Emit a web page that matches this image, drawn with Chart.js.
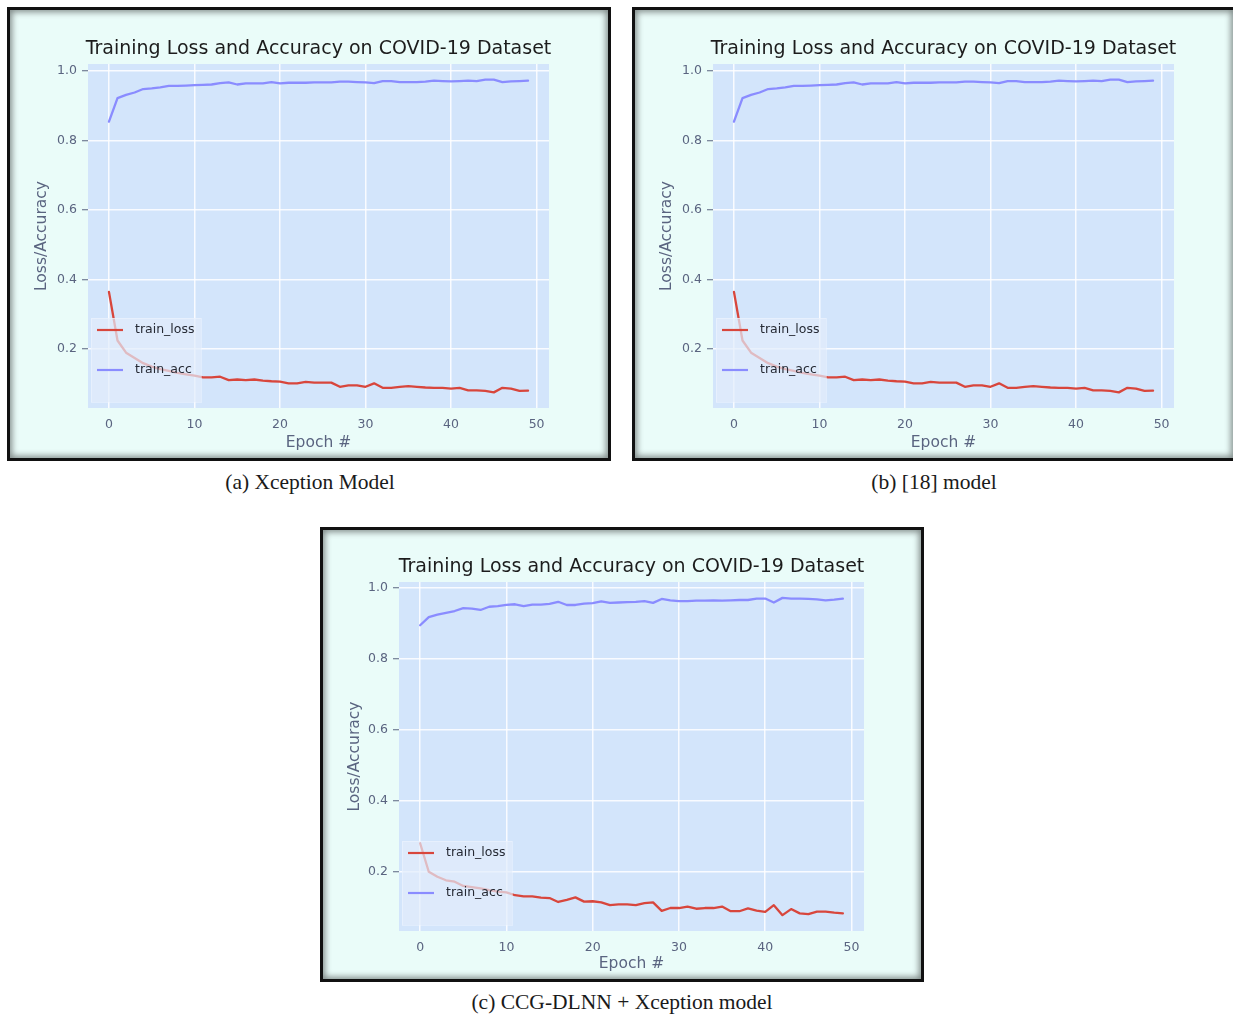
<!DOCTYPE html>
<html>
<head>
<meta charset="utf-8">
<title>Training Loss and Accuracy on COVID-19 Dataset</title>
<script src="https://cdn.jsdelivr.net/npm/chart.js@4.4.1/dist/chart.umd.min.js"></script>
<style>
    html, body { margin: 0; padding: 0; background: #fff; overflow: hidden; width: 1233px; height: 1015px; }
    .frame {
        position: absolute;
        box-sizing: border-box;
        width: 604px;
        border: 3px solid #111;
        background: #eafcf9;
        box-shadow: inset 0 0 6px 2px rgba(0, 0, 0, 0.45);
    }
    .frame canvas { position: absolute; left: 0; top: 0; }
    .caption {
        position: absolute;
        font-family: 'Liberation Serif', 'Times New Roman', serif;
        font-size: 21.5px;
        line-height: 24px;
        color: #1a1a1a;
        transform: translateX(-50%);
        white-space: nowrap;
    }
</style>
</head>
<body>
<div class="frame" style="left:7px; top:7px; height:454px;"><canvas id="chartA" width="598" height="448"></canvas></div>
<div class="frame" style="left:632px; top:7px; height:454px;"><canvas id="chartB" width="598" height="448"></canvas></div>
<div class="frame" style="left:320px; top:527px; height:455px;"><canvas id="chartC" width="598" height="449"></canvas></div>

<div class="caption" style="left:310px; top:470px;">(a) Xception Model</div>
<div class="caption" style="left:934px; top:470px;">(b) [18] model</div>
<div class="caption" style="left:622px; top:990px;">(c) CCG-DLNN + Xception model</div>

<script>
'use strict';

// Epochs (x axis) and tick labels
const epochs = Array.from({ length: 50 }, (_, i) => i);
const xTicks = [0, 10, 20, 30, 40, 50];
const yTicks = [0.2, 0.4, 0.6, 0.8, 1.0];

// Xception run (panels a and b show the same curves)
const lossXception = [
    0.365, 0.225, 0.190, 0.175, 0.160, 0.150, 0.143, 0.138, 0.132, 0.128,
    0.124, 0.119, 0.119, 0.121, 0.111, 0.113, 0.111, 0.113, 0.110, 0.108,
    0.107, 0.102, 0.102, 0.106, 0.104, 0.104, 0.104, 0.092, 0.096, 0.096,
    0.092, 0.102, 0.089, 0.089, 0.092, 0.094, 0.092, 0.090, 0.089, 0.089,
    0.087, 0.089, 0.082, 0.082, 0.080, 0.076, 0.089, 0.087, 0.080, 0.081,
];
const accXception = [
    0.854, 0.922, 0.931, 0.938, 0.948, 0.950, 0.953, 0.957, 0.957, 0.958,
    0.959, 0.960, 0.961, 0.965, 0.967, 0.961, 0.964, 0.964, 0.964, 0.968,
    0.964, 0.966, 0.966, 0.966, 0.967, 0.967, 0.967, 0.969, 0.969, 0.968,
    0.967, 0.965, 0.971, 0.971, 0.968, 0.968, 0.968, 0.969, 0.972, 0.971,
    0.970, 0.971, 0.972, 0.971, 0.975, 0.975, 0.968, 0.970, 0.971, 0.972,
];

// CCG-DLNN + Xception run (panel c)
const lossCcg = [
    0.281, 0.201, 0.187, 0.177, 0.173, 0.161, 0.158, 0.154, 0.149, 0.145,
    0.143, 0.135, 0.132, 0.132, 0.128, 0.127, 0.116, 0.122, 0.129, 0.117,
    0.118, 0.115, 0.107, 0.109, 0.109, 0.107, 0.113, 0.115, 0.091, 0.099,
    0.099, 0.103, 0.097, 0.099, 0.099, 0.103, 0.090, 0.090, 0.098, 0.092,
    0.088, 0.107, 0.079, 0.096, 0.084, 0.082, 0.089, 0.089, 0.086, 0.084,
];
const accCcg = [
    0.894, 0.917, 0.924, 0.929, 0.934, 0.942, 0.941, 0.937, 0.946, 0.948,
    0.951, 0.953, 0.948, 0.952, 0.952, 0.954, 0.960, 0.951, 0.951, 0.955,
    0.956, 0.961, 0.957, 0.958, 0.959, 0.960, 0.962, 0.957, 0.968, 0.964,
    0.962, 0.962, 0.963, 0.963, 0.964, 0.963, 0.964, 0.965, 0.965, 0.969,
    0.969, 0.958, 0.971, 0.969, 0.969, 0.968, 0.967, 0.964, 0.966, 0.969,
];

const FONT = "'DejaVu Sans', 'Noto Sans', sans-serif";
const TITLE = 'Training Loss and Accuracy on COVID-19 Dataset';
const PLOT_BG = '#d3e5fb';
const GRID = 'rgba(255, 255, 255, 0.85)';
const TICK_COLOR = '#5a6480';
const LOSS_COLOR = '#d8463c';
const ACC_COLOR = '#8a8cff';

// marge de 5 % comme matplotlib
function limits(values) {
    const lo = Math.min(...values);
    const hi = Math.max(...values);
    const m = (hi - lo) * 0.05;
    return [lo - m, hi + m];
}

/* Fond de la zone de tracé */
const plotBackground = {
    id: 'plotBackground',
    beforeDraw(chart, args, opts) {
        const { ctx, chartArea: a } = chart;
        ctx.save();
        ctx.fillStyle = opts.color;
        ctx.fillRect(a.left, a.top, a.width, a.height);
        ctx.restore();
    },
};

/* Titre centré sur la zone de tracé */
const panelTitle = {
    id: 'panelTitle',
    afterDraw(chart, args, opts) {
        const { ctx, chartArea: a } = chart;
        ctx.save();
        ctx.font = opts.size + 'px ' + FONT;
        ctx.fillStyle = opts.color;
        ctx.textAlign = 'center';
        ctx.textBaseline = 'middle';
        ctx.fillText(opts.text, (a.left + a.right) / 2, a.top - 15);
        ctx.restore();
    },
};

/* Légende en bas à gauche, dans le tracé */
const boxLegend = {
    id: 'boxLegend',
    afterDatasetsDraw(chart, args, opts) {
        const { ctx, chartArea: a } = chart;
        const x = a.left + 3;
        const top = a.bottom - 90;
        const bottom = a.bottom - 6;
        ctx.save();
        ctx.fillStyle = opts.fill;
        ctx.fillRect(x, top, 110, bottom - top);
        ctx.strokeStyle = opts.stroke;
        ctx.lineWidth = 1;
        ctx.strokeRect(x + 0.5, top + 0.5, 110, bottom - top);
        chart.data.datasets.forEach((ds, i) => {
            const y = a.bottom - 78 + i * 40;
            ctx.strokeStyle = ds.borderColor;
            ctx.lineWidth = 2.2;
            ctx.beginPath();
            ctx.moveTo(x + 6, y);
            ctx.lineTo(x + 32, y);
            ctx.stroke();
            ctx.fillStyle = opts.color;
            ctx.font = '12.5px ' + FONT;
            ctx.textAlign = 'left';
            ctx.textBaseline = 'middle';
            ctx.fillText(ds.label, x + 44, y);
        });
        ctx.restore();
    },
};

function makeChart(canvasId, loss, acc, area) {
    const canvas = document.getElementById(canvasId);
    const [xMin, xMax] = limits(epochs);
    const [yMin, yMax] = limits(loss.concat(acc));

    return new Chart(canvas, {
        type: 'line',
        data: {
            labels: epochs,
            datasets: [
                { label: 'train_loss', data: loss, borderColor: LOSS_COLOR, backgroundColor: LOSS_COLOR },
                { label: 'train_acc', data: acc, borderColor: ACC_COLOR, backgroundColor: ACC_COLOR },
            ],
        },
        options: {
            responsive: false,
            animation: false,
            layout: { padding: { left: 0, top: area.top, right: canvas.width - area.right, bottom: 0 } },
            elements: {
                point: { radius: 0 },
                line: { borderWidth: 2.3, tension: 0, borderJoinStyle: 'round', borderCapStyle: 'round' },
            },
            plugins: {
                legend: { display: false },
                tooltip: { enabled: false },
                plotBackground: { color: PLOT_BG },
                panelTitle: { text: TITLE, size: 19, color: '#1c1c1c' },
                boxLegend: { fill: 'rgba(226, 237, 251, 0.7)', stroke: 'rgba(240, 246, 255, 0.5)', color: '#262a34' },
            },
            scales: {
                x: {
                    type: 'linear',
                    min: xMin,
                    max: xMax,
                    afterBuildTicks: (axis) => {
                        axis.ticks = xTicks.map((v) => ({ value: v }));
                    },
                    afterFit: (axis) => {
                        axis.height = canvas.height - area.bottom;
                    },
                    border: { display: false },
                    grid: { color: GRID, lineWidth: 1.5, tickLength: 5, tickColor: 'rgba(0, 0, 0, 0)' },
                    ticks: {
                        color: TICK_COLOR,
                        font: { family: FONT, size: 12.5 },
                        padding: 4,
                        maxRotation: 0,
                        autoSkip: false,
                    },
                    title: {
                        display: true,
                        text: 'Epoch #',
                        color: TICK_COLOR,
                        font: { family: FONT, size: 15.5 },
                        padding: { top: 0, bottom: 6 },
                    },
                },
                y: {
                    min: yMin,
                    max: yMax,
                    afterBuildTicks: (axis) => {
                        axis.ticks = yTicks.map((v) => ({ value: v }));
                    },
                    afterFit: (axis) => {
                        axis.width = area.left;
                    },
                    border: { display: false },
                    grid: { color: GRID, lineWidth: 1.5, tickLength: 6, tickColor: TICK_COLOR, tickWidth: 1 },
                    ticks: {
                        color: TICK_COLOR,
                        font: { family: FONT, size: 12.5 },
                        padding: 5,
                        callback: (v) => Number(v).toFixed(1),
                    },
                    title: {
                        display: true,
                        text: 'Loss/Accuracy',
                        color: TICK_COLOR,
                        font: { family: FONT, size: 15.5 },
                        padding: { top: 23, bottom: 0 },
                    },
                },
            },
        },
        plugins: [plotBackground, panelTitle, boxLegend],
    });
}

makeChart('chartA', lossXception, accXception, { left: 78, right: 539, top: 54, bottom: 398 });
makeChart('chartB', lossXception, accXception, { left: 78, right: 539, top: 54, bottom: 398 });
makeChart('chartC', lossCcg, accCcg, { left: 76, right: 541, top: 52, bottom: 401 });
</script>
</body>
</html>
